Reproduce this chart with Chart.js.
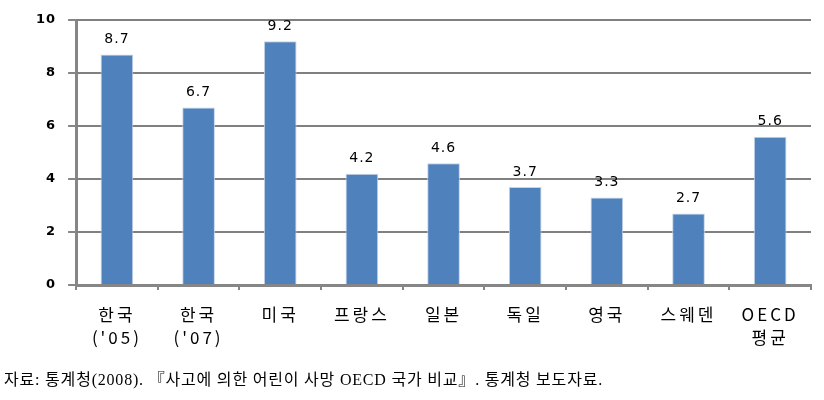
<!DOCTYPE html>
<html><head><meta charset="utf-8">
<script src="https://cdn.jsdelivr.net/npm/chart.js@4/dist/chart.umd.min.js"></script>
<style>
html,body{margin:0;padding:0;background:#fff;}
#wrap{position:relative;width:824px;height:400px;}
#c{position:absolute;left:0;top:0;}
#src{position:absolute;left:4px;top:366px;font-family:"Liberation Serif","Noto Sans CJK KR",serif;font-size:16px;letter-spacing:0.8px;color:#000;white-space:nowrap;}
</style></head>
<body><div id="wrap"><canvas id="c" width="824" height="376"></canvas>
<div id="src">자료: 통계청(2008). 『사고에 의한 어린이 사망 OECD 국가 비교』. 통계청 보도자료.</div></div>
<script>
const categories = [["한국","('05)"],["한국","('07)"],"미국","프랑스","일본","독일","영국","스웨덴",["OECD","평균"]];
const values = [8.7, 6.7, 9.2, 4.2, 4.6, 3.7, 3.3, 2.7, 5.6];
const yStep = 2;
const yMax = 10;

const axisPlugin = {
  id: 'axisStyle',
  beforeLayout(chart) {
    const s = chart.scales.x;
    if (s && !s._wrapped) {
      const d = s.draw.bind(s);
      s.draw = (a) => { chart.ctx.letterSpacing = '3px'; d(a); chart.ctx.letterSpacing = '0px'; };
      s._wrapped = true;
    }
    const y = chart.scales.y;
    if (y && !y._wrapped) {
      const d2 = y.draw.bind(y);
      y.draw = (a) => { chart.ctx.letterSpacing = '1px'; d2(a); chart.ctx.letterSpacing = '0px'; };
      y._wrapped = true;
    }
  },
  beforeDatasetsDraw(chart) {
    const ctx = chart.ctx, x = chart.scales.x, y = chart.scales.y;
    ctx.save();
    ctx.fillStyle = 'rgb(128,128,128)';
    const right = x.right;
    const left = x.left;
    for (let v = yStep; v <= yMax; v += yStep) {
      const py = Math.round(y.getPixelForValue(v));
      ctx.fillRect(left, py - 1, right - left, 2);
    }
    ctx.restore();
  },
  afterDatasetsDraw(chart) {
    const ctx = chart.ctx;
    const bars = chart.getDatasetMeta(0).data;
    ctx.save();
    ctx.letterSpacing = '1px';
    ctx.font = '14px "DejaVu Sans"';
    ctx.fillStyle = '#000';
    ctx.textAlign = 'center';
    ctx.textBaseline = 'bottom';
    bars.forEach((b, i) => {
      ctx.fillText(values[i].toFixed(1), b.x, b.y - 8);
    });
    ctx.restore();
  }
};

new Chart(document.getElementById('c'), {
  type: 'bar',
  data: { labels: categories, datasets: [{ data: values, backgroundColor: '#4F81BD', borderColor: '#c5d3e6', borderWidth: {left:1,right:1,top:1,bottom:0}, barPercentage: 0.4, categoryPercentage: 1.0 }] },
  options: {
    responsive: false, animation: false,
    layout: { padding: { top: 20, right: 13, left: 26, bottom: 14 } },
    plugins: { legend: { display: false }, tooltip: { enabled: false } },
    scales: {
      y: {
        min: 0, max: yMax,
        border: { display: true, color: '#868686', width: 3 },
        grid: { display: true, drawOnChartArea: false, color: '#868686', lineWidth: 2, tickLength: 8, drawTicks: true },
        ticks: { stepSize: yStep, padding: 12, color: '#000', font: { family: 'DejaVu Sans', size: 13, weight: 'bold' } }
      },
      x: {
        offset: true,
        border: { color: '#868686', width: 3 },
        grid: { offset: true, drawOnChartArea: false, color: '#868686', lineWidth: 2, tickLength: 5 },
        ticks: { padding: 13, color: '#000', maxRotation: 0, autoSkip: false, font: { family: 'Noto Sans CJK KR', size: 17, lineHeight: 1.35 } }
      }
    }
  },
  plugins: [axisPlugin]
});
</script></body></html>
